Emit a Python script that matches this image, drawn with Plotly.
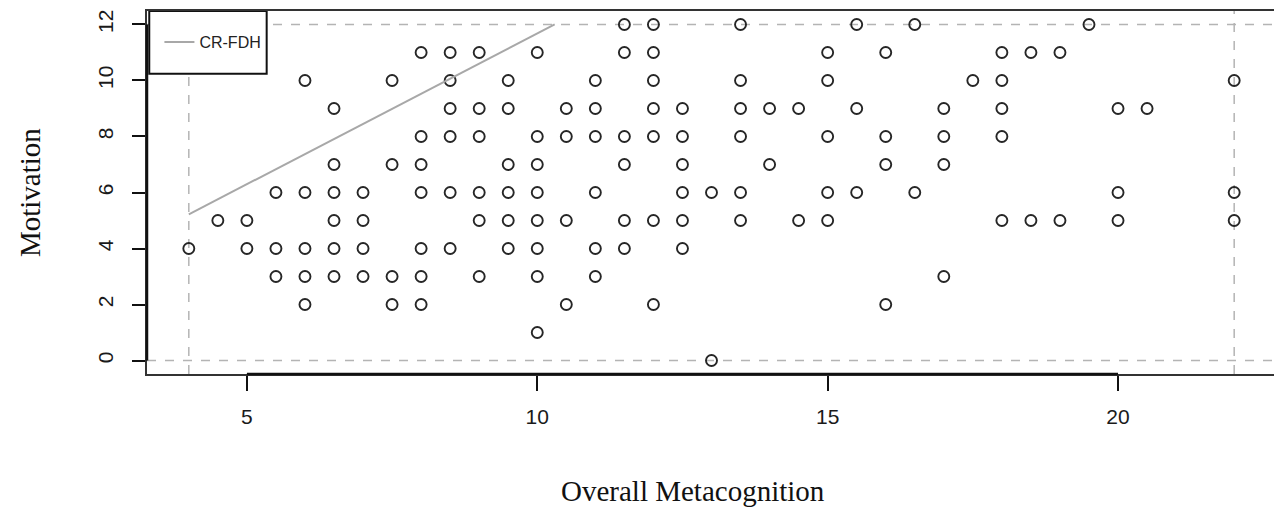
import plotly.graph_objects as go

# Data: Motivation value -> list of Overall Metacognition values
rows = {
    12: [11.5, 12, 13.5, 15.5, 16.5, 19.5],
    11: [8, 8.5, 9, 10, 11.5, 12, 15, 16, 18, 18.5, 19],
    10: [6, 7.5, 8.5, 9.5, 11, 12, 13.5, 15, 17.5, 18, 22],
    9: [6.5, 8.5, 9, 9.5, 10.5, 11, 12, 12.5, 13.5, 14, 14.5, 15.5, 17, 18, 20, 20.5],
    8: [8, 8.5, 9, 10, 10.5, 11, 11.5, 12, 12.5, 13.5, 15, 16, 17, 18],
    7: [6.5, 7.5, 8, 9.5, 10, 11.5, 12.5, 14, 16, 17],
    6: [5.5, 6, 6.5, 7, 8, 8.5, 9, 9.5, 10, 11, 12.5, 13, 13.5, 15, 15.5, 16.5, 20, 22],
    5: [4.5, 5, 6.5, 7, 9, 9.5, 10, 10.5, 11.5, 12, 12.5, 13.5, 14.5, 15, 18, 18.5, 19, 20, 22],
    4: [4, 5, 5.5, 6, 6.5, 7, 8, 8.5, 9.5, 10, 11, 11.5, 12.5],
    3: [5.5, 6, 6.5, 7, 7.5, 8, 9, 10, 11, 17],
    2: [6, 7.5, 8, 10.5, 12, 16],
    1: [10],
    0: [13],
}
metacognition = [x for y, xs in rows.items() for x in xs]
motivation = [y for y, xs in rows.items() for x in xs]

# CR-FDH ceiling line
crfdh_x = [4, 10.3]
crfdh_y = [5.22, 12]

x_ticks = [5, 10, 15, 20]
y_ticks = [0, 2, 4, 6, 8, 10, 12]
x_min, x_max = 4, 22
y_min, y_max = 0, 12

tick_font = dict(family="Liberation Sans, Arial", size=21, color="#1a1a1a")
title_font = dict(family="Liberation Serif, Times New Roman", size=29, color="#111")

fig = go.Figure()
fig.add_trace(go.Scatter(
    x=metacognition, y=motivation, mode="markers", showlegend=False,
    marker=dict(symbol="circle-open", size=11, color="#262626", line=dict(width=1.9)),
))
fig.add_trace(go.Scatter(
    x=crfdh_x, y=crfdh_y, mode="lines", name="CR-FDH",
    line=dict(color="#a8a8a8", width=2),
))

dash = dict(color="#b4b4b4", width=1.5, dash="dash")
shapes = [
    dict(type="line", xref="x", yref="paper", x0=x_min, x1=x_min, y0=0, y1=1, line=dash, layer="below"),
    dict(type="line", xref="x", yref="paper", x0=x_max, x1=x_max, y0=0, y1=1, line=dash, layer="below"),
    dict(type="line", xref="paper", yref="y", x0=0, x1=1, y0=y_min, y1=y_min, line=dash, layer="below"),
    dict(type="line", xref="paper", yref="y", x0=0, x1=1, y0=y_max, y1=y_max, line=dash, layer="below"),
    # R-style axis segments
    dict(type="line", xref="x", yref="paper", x0=x_ticks[0], x1=x_ticks[-1], y0=0, y1=0,
         line=dict(color="#111", width=2.5)),
    dict(type="line", xref="paper", yref="y", x0=0, x1=0, y0=y_ticks[0], y1=y_ticks[-1],
         line=dict(color="#111", width=2.5)),
    # legend box
    dict(type="rect", xref="paper", yref="paper", x0=0.002, x1=0.106, y0=0.827, y1=1,
         line=dict(color="#111", width=2), fillcolor="white", layer="below"),
]

xr = (x_max - x_min) * 0.04
yr = (y_max - y_min) * 0.04
fig.update_layout(
    width=1274, height=506,
    margin=dict(l=139, r=6, t=1, b=140),
    plot_bgcolor="white", paper_bgcolor="white",
    shapes=shapes,
    showlegend=True,
    legend=dict(x=0.011, y=0.914, xanchor="left", yanchor="middle", bgcolor="rgba(0,0,0,0)",
                font=dict(family="Liberation Sans, Arial", size=16, color="#222"),
                itemwidth=30),
    xaxis=dict(range=[x_min - xr, x_max + xr], tickvals=x_ticks, ticks="outside", ticklen=15,
               tickwidth=1.5, tickcolor="#111", showgrid=False, zeroline=False,
               showline=True, mirror=True, linecolor="#333", linewidth=1.5,
               ticklabelstandoff=8, tickfont=tick_font),
    yaxis=dict(range=[y_min - yr, y_max + yr], tickvals=y_ticks, ticks="outside", ticklen=13,
               tickwidth=1.5, tickcolor="#111", showgrid=False, zeroline=False, tickangle=-90,
               showline=True, mirror=True, linecolor="#333", linewidth=1.5,
               ticklabelstandoff=11, tickfont=tick_font),
    annotations=[
        dict(text="Overall Metacognition", xref="paper", yref="paper", x=0.484, y=-0.323,
             xanchor="center", yanchor="middle", showarrow=False, font=title_font),
        dict(text="Motivation", xref="paper", yref="paper", x=-0.1036, y=0.4986,
             xanchor="center", yanchor="middle", showarrow=False, textangle=-90, font=title_font),
    ],
)

fig.write_html("out.html")
